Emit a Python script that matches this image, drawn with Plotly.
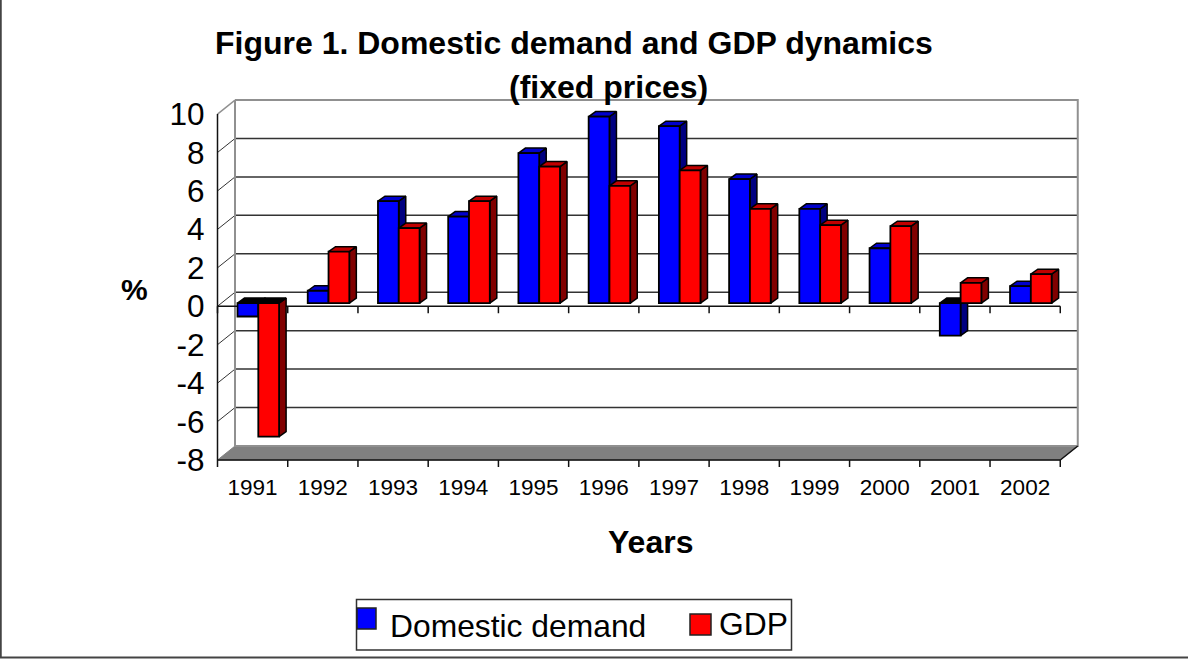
import plotly.graph_objects as go

years = ["1991","1992","1993","1994","1995","1996","1997","1998","1999","2000","2001","2002"]
domestic_demand = [-0.7,0.64,5.3,4.5,7.8,9.7,9.2,6.45,4.9,2.85,-1.7,0.88]
gdp = [-6.95,2.67,3.9,5.3,7.1,6.1,6.9,4.9,4.05,4.0,1.05,1.5]
y_ticks = [-8,-6,-4,-2,0,2,4,6,8,10]

W, H = 1188, 659
PX_X = 70.23   # px per category
PX_Y = 19.22   # px per percentage point
WALL_DX = 17.5 / PX_X
WALL_DY = 14 / PX_Y
BAR_DX = 7 / PX_X
BAR_DY = 5 / PX_Y
BASE = 3.2 / PX_Y
BAR_W = 20.8 / PX_X
OFF_A = 20 / PX_X
OFF_B = OFF_A + BAR_W
YMIN = -8
YMAX = 10
N = len(years)
PLOT_BOTTOM = 468
xr = [-3 / PX_X, (1079 - 217.5) / PX_X]
yr = [YMIN - (PLOT_BOTTOM - 460) / PX_Y, YMIN + (460 - 97) / PX_Y]

fx = lambda p: p / W
fy = lambda p: 1 - p / H

fig = go.Figure()

def poly(points_list, color):
    xs, ys = [], []
    for pts in points_list:
        for a, b in pts + [pts[0]]:
            xs.append(a); ys.append(b)
        xs.append(None); ys.append(None)
    return go.Scatter(x=xs, y=ys, mode="lines", fill="toself", fillcolor=color,
                      line=dict(color="black", width=1.5), hoverinfo="skip", showlegend=False)

def lines(segs, color, width):
    xs, ys = [], []
    for (a, b), (c, d) in segs:
        xs += [a, c, None]; ys += [b, d, None]
    return go.Scatter(x=xs, y=ys, mode="lines", line=dict(color=color, width=width),
                      hoverinfo="skip", showlegend=False)

# floor
fig.add_trace(go.Scatter(
    x=[0, N, N + WALL_DX, WALL_DX, 0], y=[YMIN, YMIN, YMIN + WALL_DY, YMIN + WALL_DY, YMIN],
    mode="lines", fill="toself", fillcolor="#808080", line=dict(color="#808080", width=1),
    hoverinfo="skip", showlegend=False))
# back wall grid
fig.add_trace(lines([((WALL_DX, v + WALL_DY), (N + WALL_DX, v + WALL_DY)) for v in y_ticks[1:-1]], "#333333", 1.5))
# side wall diagonals
fig.add_trace(lines([((0, v), (WALL_DX, v + WALL_DY)) for v in y_ticks[1:-1]], "#333333", 1))
fig.add_trace(lines([((0, YMAX), (WALL_DX, YMAX + WALL_DY))], "#909090", 1.5))
# wall frame
fig.add_trace(go.Scatter(
    x=[WALL_DX, N + WALL_DX, N + WALL_DX, WALL_DX, WALL_DX],
    y=[YMAX + WALL_DY, YMAX + WALL_DY, YMIN + WALL_DY, YMIN + WALL_DY, YMAX + WALL_DY],
    mode="lines", line=dict(color="#909090", width=2), hoverinfo="skip", showlegend=False))
# front axes and tick marks
tick_len = 7 / PX_Y
fig.add_trace(lines(
    [((0, YMAX), (0, YMIN)), ((0, 0), (N, 0)), ((0, YMIN), (N, YMIN)), ((N, YMIN), (N + WALL_DX, YMIN + WALL_DY))]
    + [((i, 0), (i, -tick_len)) for i in range(N + 1)]
    + [((i, YMIN), (i, YMIN - tick_len)) for i in range(N + 1)],
    "#111111", 1.5))

def faces(vals, off, top_color, side_color):
    sides, tops, neg = [], [], []
    for i, v in enumerate(vals):
        x0 = i + off; x1 = x0 + BAR_W
        lo, hi = min(BASE, BASE + v), max(BASE, BASE + v)
        sides.append([(x1, lo), (x1 + BAR_DX, lo + BAR_DY), (x1 + BAR_DX, hi + BAR_DY), (x1, hi)])
        t = [(x0, hi), (x0 + BAR_DX, hi + BAR_DY), (x1 + BAR_DX, hi + BAR_DY), (x1, hi)]
        (neg if v < 0 else tops).append(t)
    fig.add_trace(poly(sides, side_color))
    fig.add_trace(poly(tops, top_color))
    if neg:
        fig.add_trace(poly(neg, "#000000"))

faces(domestic_demand, OFF_A, "#0000CC", "#000080")
faces(gdp, OFF_B, "#C00000", "#800000")

# front faces on an overlaid pair of axes so they sit above the depth faces
for name, vals, off, color in [("Domestic demand", domestic_demand, OFF_A, "#0000FF"),
                               ("GDP", gdp, OFF_B, "#FF0000")]:
    fig.add_trace(go.Bar(name=name, x=[i + off + BAR_W / 2 for i in range(N)], y=vals, base=BASE,
                         width=BAR_W, marker=dict(color=color, line=dict(color="black", width=1.8)),
                         xaxis="x2", yaxis="y2", showlegend=False))

dom_x = [fx(217.5 - 3), fx(1079)]
dom_y = [fy(PLOT_BOTTOM), fy(97)]
font = "Liberation Sans, Arial, sans-serif"
fig.update_layout(
    width=W, height=H, margin=dict(l=0, r=0, t=0, b=0, autoexpand=False), autosize=False,
    paper_bgcolor="white", plot_bgcolor="rgba(0,0,0,0)", barmode="overlay", showlegend=False,
    font=dict(family=font, color="black"),
    xaxis=dict(domain=dom_x, range=xr, showgrid=False, zeroline=False, showline=False,
               tickmode="array", tickvals=[i + 0.5 for i in range(N)], ticktext=years,
               ticks="", ticklen=0, tickfont=dict(size=22.5, family=font), ticklabelstandoff=3),
    yaxis=dict(domain=dom_y, range=yr, showgrid=False, zeroline=False, showline=False,
               tickmode="array", tickvals=y_ticks, ticktext=[str(v) for v in y_ticks],
               ticks="", ticklen=0, tickfont=dict(size=31.5, family=font), ticklabelstandoff=9),
    xaxis2=dict(domain=dom_x, range=xr, overlaying="x", visible=False),
    yaxis2=dict(domain=dom_y, range=yr, overlaying="y", visible=False),
)

def text(s, px, py, size, bold=False, anchor="center"):
    fig.add_annotation(text=f"<b>{s}</b>" if bold else s, xref="paper", yref="paper",
                       x=fx(px), y=fy(py), xanchor=anchor, yanchor="middle", showarrow=False,
                       font=dict(size=size, family=font, color="black"))

text("Figure 1. Domestic demand and GDP dynamics", 574, 43, 32, True)
text("(fixed prices)", 608, 87, 32, True)
text("%", 134, 289, 30, True)
text("Years", 650, 542, 32, True)
text("Domestic demand", 388, 626, 31.8, anchor="left")
text("GDP", 717, 624, 31.8, anchor="left")

def rect(x0, y0, x1, y1, line, fill=None, w=1.5):
    fig.add_shape(type="rect", xref="paper", yref="paper", x0=fx(x0), x1=fx(x1), y0=fy(y0), y1=fy(y1),
                  line=dict(color=line, width=w), fillcolor=fill or "rgba(0,0,0,0)")

rect(356.5, 599.5, 791.5, 650, "#333333")
rect(357, 608, 376, 629, "#222222", "#0000FF")
rect(690, 614, 711, 635, "#222222", "#FF0000")
fig.add_shape(type="line", xref="paper", yref="paper", x0=0, x1=1, y0=fy(657.5), y1=fy(657.5), line=dict(color="#444444", width=2))
fig.add_shape(type="line", xref="paper", yref="paper", x0=fx(0.75), x1=fx(0.75), y0=fy(657.5), y1=1, line=dict(color="#444444", width=2))

fig.write_html("out.html", config=dict(displayModeBar=False),
               post_script="document.body.style.margin='0';document.body.style.overflow='hidden';")
